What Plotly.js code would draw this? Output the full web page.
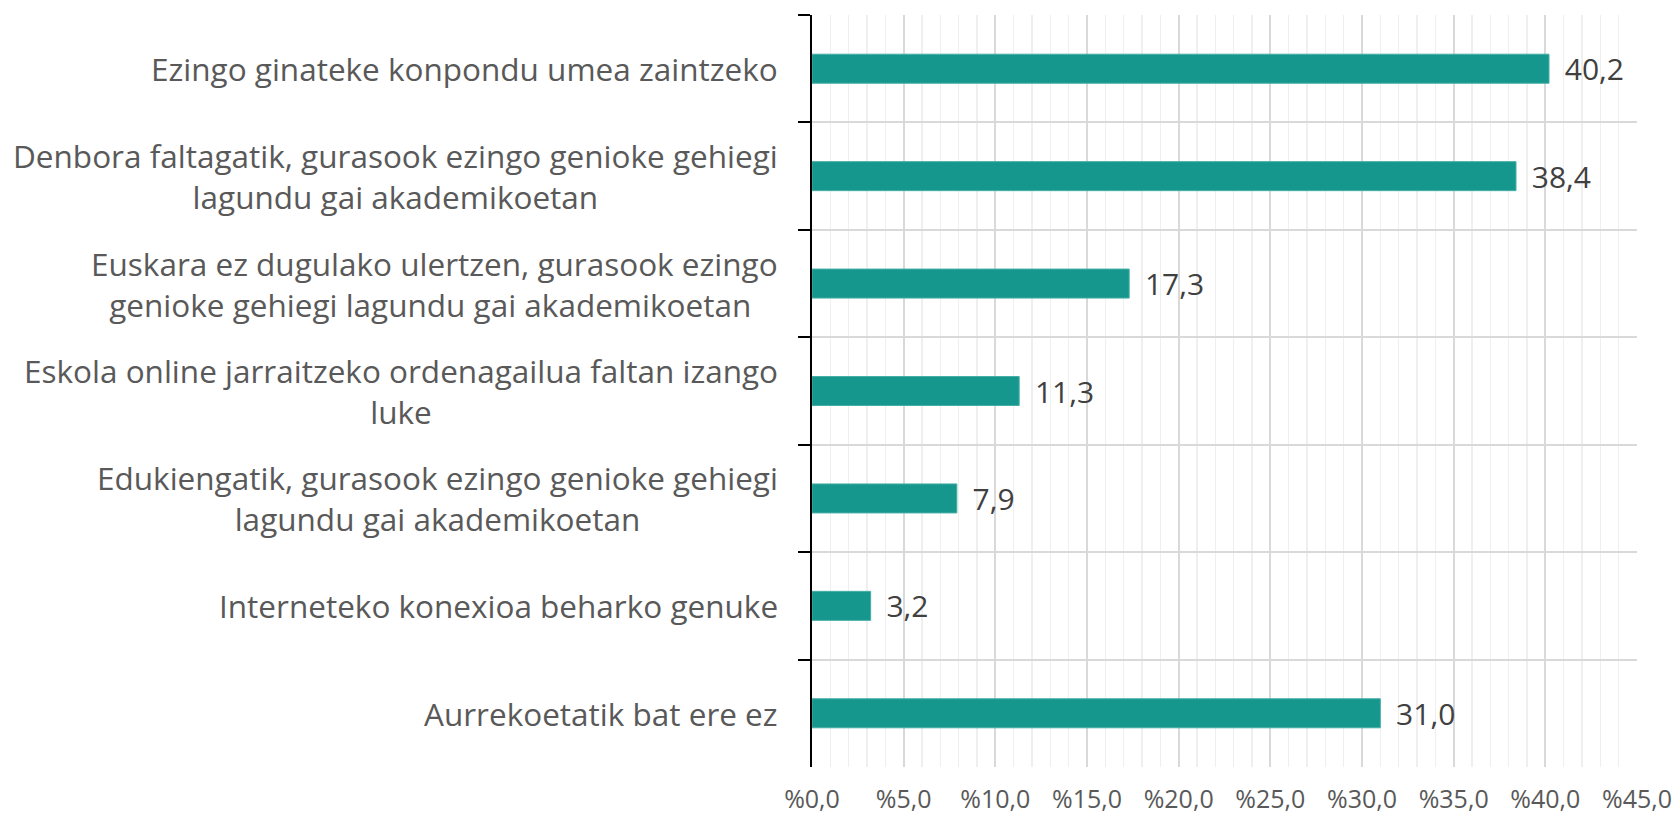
<!DOCTYPE html>
<html>
<head>
<meta charset="utf-8">
<script src="https://cdn.plot.ly/plotly-3.0.1.min.js"></script>
<style>
html,body{margin:0;padding:0;background:#fff;}
#chart{width:1678px;height:822px;}
</style>
</head>
<body>
<div id="chart"></div>
<script>
var categories = [
  "Ezingo ginateke konpondu umea zaintzeko",
  "Denbora faltagatik, gurasook ezingo genioke gehiegi<br>lagundu gai akademikoetan",
  "Euskara ez dugulako ulertzen, gurasook ezingo<br>genioke gehiegi lagundu gai akademikoetan ",
  "Eskola online jarraitzeko ordenagailua faltan izango<br>luke",
  "Edukiengatik, gurasook ezingo genioke gehiegi<br>lagundu gai akademikoetan",
  "Interneteko konexioa beharko genuke",
  "Aurrekoetatik bat ere ez"
];
var values = [40.2, 38.4, 17.3, 11.3, 7.9, 3.2, 31.0];
var xTickValues = [0, 5, 10, 15, 20, 25, 30, 35, 40, 45];
var xTickLabels = ["%0,0", "%5,0", "%10,0", "%15,0", "%20,0", "%25,0", "%30,0", "%35,0", "%40,0", "%45,0"];

var FONT = "Open Sans, Lato, Roboto, sans-serif";

var trace = {
  type: "bar",
  orientation: "h",
  y: categories,
  x: values,
  width: 0.27,
  marker: {color: "#16978e", line: {color: "#45aea5", width: 1}},
  text: values.map(function(v){ return "\u00a0\u2009" + v.toFixed(1).replace(".", ","); }),
  textposition: "outside",
  constraintext: "none",
  cliponaxis: false,
  textfont: {family: FONT, size: 30, color: "#404040"},
  hoverinfo: "none"
};

var annotations = categories.map(function(c){
  return {
    xref: "paper", yref: "y", x: 0, y: c,
    xanchor: "right", yanchor: "middle",
    xshift: -32,
    text: c, align: "center", showarrow: false,
    font: {family: FONT, size: 31.5, color: "#595959"}
  };
});

var layout = {
  width: 1678, height: 822,
  margin: {l: 812, r: 41, t: 15, b: 55, pad: 0},
  paper_bgcolor: "#ffffff", plot_bgcolor: "#ffffff",
  showlegend: false,
  separators: ",.",
  annotations: annotations,
  xaxis: {
    range: [0, 45],
    tickmode: "array",
    tickvals: xTickValues,
    ticktext: xTickLabels,
    showgrid: true, gridcolor: "#d9d9d9", gridwidth: 2,
    minor: {dtick: 1, showgrid: true, gridcolor: "#efefef", gridwidth: 1.5},
    zeroline: false, showline: false, ticks: "",
    ticklabelstandoff: 15,
    tickfont: {family: FONT, size: 25, color: "#595959"}
  },
  yaxis: {
    type: "category",
    autorange: "reversed",
    showticklabels: false,
    tickson: "boundaries",
    ticks: "outside", ticklen: 12, tickwidth: 2, tickcolor: "#000000",
    showgrid: true, gridcolor: "#d9d9d9", gridwidth: 2,
    showline: true, linecolor: "#000000", linewidth: 2,
    zeroline: false
  }
};

Plotly.newPlot("chart", [trace], layout, {staticPlot: true, displayModeBar: false});
</script>
</body>
</html>
